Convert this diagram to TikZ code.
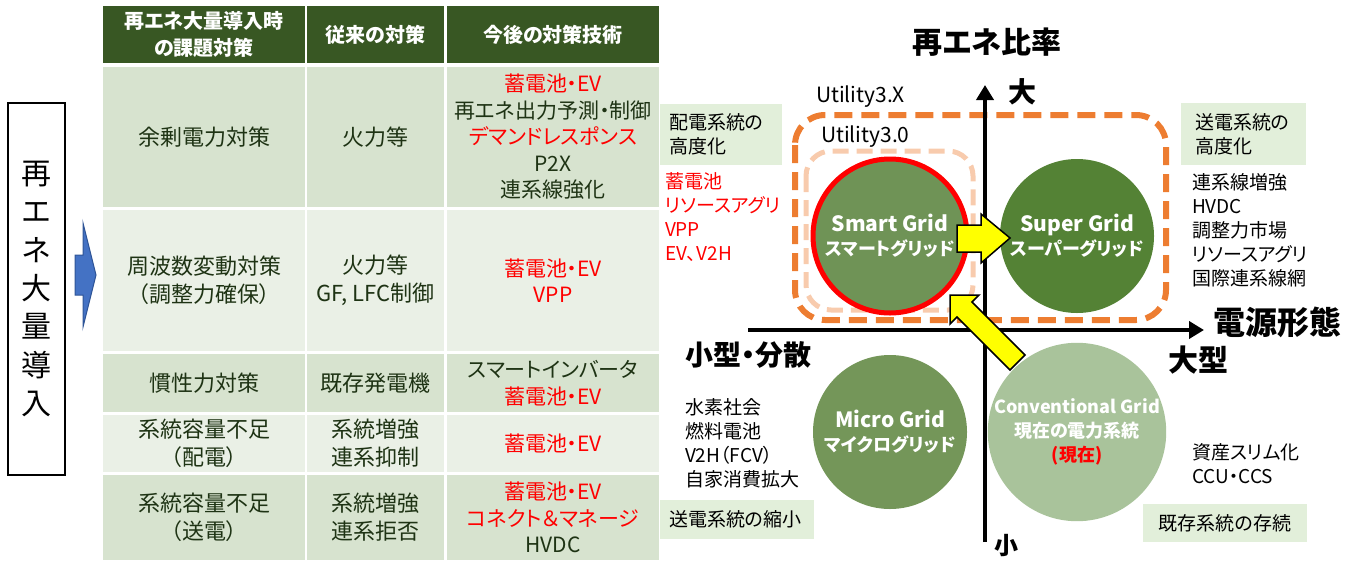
\documentclass[tikz,border=0pt]{standalone}
\usepackage{fontspec}
\setmainfont{Noto Sans CJK JP}[RawFeature=+palt]
\usetikzlibrary{arrows.meta}
\definecolor{hdr}{HTML}{385723}
\definecolor{rowA}{HTML}{D7E3CF}
\definecolor{rowB}{HTML}{EAF0E6}
\definecolor{ttext}{HTML}{1E3314}
\definecolor{rd}{HTML}{FF0000}
\definecolor{lbl}{HTML}{E2EFDA}
\definecolor{org}{HTML}{ED7D31}
\definecolor{peach}{HTML}{F8CBAD}
\definecolor{smartg}{HTML}{6F9356}
\definecolor{superg}{HTML}{548235}
\definecolor{microg}{HTML}{749659}
\definecolor{convg}{HTML}{A9C39B}
\definecolor{bluearr}{HTML}{4472C4}
\definecolor{bluedark}{HTML}{2F5597}
\definecolor{yel}{HTML}{FFFF00}
\begin{document}
\begin{tikzpicture}[x=1pt,y=-1pt,
 every node/.style={inner sep=0pt, outer sep=0pt},
 hcell/.style={fill=hdr, text=white, font=\bfseries\fontsize{20}{27}\selectfont, align=center},
 cellA/.style={fill=rowA, text=ttext, align=center},
 cellB/.style={fill=rowB, text=ttext, align=center},
 fa/.style={font=\fontsize{22}{28}\selectfont},
 fc/.style={font=\fontsize{21}{26.5}\selectfont},
 w1/.style={minimum width=202pt},
 w2/.style={minimum width=137pt},
 w3/.style={minimum width=212pt},
 lblbox/.style={fill=lbl, align=left, font=\fontsize{19}{24}\selectfont},
 listtext/.style={align=left, anchor=west, font=\fontsize{19}{24}\selectfont},
 axislabel/.style={font=\bfseries\fontsize{30}{36}\selectfont},
 gridc/.style={circle, minimum size=154pt, text=white, align=center, font=\bfseries\fontsize{21}{24}\selectfont},
 blockarrow/.style={fill=yel, draw=black, line width=1.5pt, line join=miter},
 axisline/.style={line width=4pt, -{Triangle[length=15pt,width=17pt]}},
]
\useasboundingbox (0,0) rectangle (1356,560);

% ---------- left vertical box ----------
\node[draw, line width=1.2pt, minimum width=57pt, minimum height=372pt] (vbox) at (36.5,289) {};
\node[align=center, font=\fontsize{30}{38.3}\selectfont] (vtext) at (vbox.center) {再\\エ\\ネ\\大\\量\\導\\入};
\draw[fill=bluearr, draw=bluedark, line width=1pt] (75,255) -- (83,255) -- (83,223) -- (96,275) -- (83,327) -- (83,295) -- (75,295) -- cycle;

% ---------- table ----------
\node[hcell, w1, minimum height=57pt] (h1) at (204,34.5) {再エネ大量導入時\\の課題対策};
\node[hcell, w2, minimum height=57pt] (h2) at (375.5,34.5) {従来の対策};
\node[hcell, w3, minimum height=57pt] (h3) at (553,34.5) {今後の対策技術};

\node[cellA, fa, w1, minimum height=140pt] (r1c1) at (204,137) {余剰電力対策};
\node[cellA, fa, w2, minimum height=140pt] (r1c2) at (375.5,137) {火力等};
\node[cellA, fc, w3, minimum height=140pt] (r1c3) at (553,137) {{\color{rd}蓄電池・EV}\\再エネ出力予測・制御\\{\color{rd}デマンドレスポンス}\\P2X\\連系線強化};

\node[cellB, fa, w1, minimum height=141pt] (r2c1) at (204,280.5) {周波数変動対策\\（調整力確保）};
\node[cellB, fa, w2, minimum height=141pt] (r2c2) at (375.5,280.5) {火力等\\GF, LFC制御};
\node[cellB, fc, w3, minimum height=141pt, text=rd] (r2c3) at (553,280.5) {蓄電池・EV\\VPP};

\node[cellA, fa, w1, minimum height=58pt] (r3c1) at (204,383) {慣性力対策};
\node[cellA, fa, w2, minimum height=58pt] (r3c2) at (375.5,383) {既存発電機};
\node[cellA, fc, w3, minimum height=58pt] (r3c3) at (553,383) {スマートインバータ\\{\color{rd}蓄電池・EV}};

\node[cellB, fa, w1, minimum height=57pt] (r4c1) at (204,443.5) {系統容量不足\\（配電）};
\node[cellB, fa, w2, minimum height=57pt] (r4c2) at (375.5,443.5) {系統増強\\連系抑制};
\node[cellB, fc, w3, minimum height=57pt, text=rd] (r4c3) at (553,443.5) {蓄電池・EV};

\node[cellA, fa, w1, minimum height=85pt] (r5c1) at (204,517.5) {系統容量不足\\（送電）};
\node[cellA, fa, w2, minimum height=85pt] (r5c2) at (375.5,517.5) {系統増強\\連系拒否};
\node[cellA, fc, w3, minimum height=85pt] (r5c3) at (553,517.5) {{\color{rd}蓄電池・EV}\\{\color{rd}コネクト＆マネージ}\\HVDC};

% ---------- right diagram ----------
\draw[org, line width=6pt, dash pattern=on 18pt off 9pt, rounded corners=30pt] (795,115) rectangle (1166,320);
\draw[peach, line width=5pt, dash pattern=on 16pt off 8pt, rounded corners=25pt] (806,151) rectangle (973,310);

\coordinate (vb) at (985,542);
\coordinate (vt) at (985,85);
\coordinate (hl) at (748,330);
\coordinate (hr) at (1204,330);
\draw[axisline] (vb) -- (vt);
\draw[axisline] (hl) -- (hr);

\node[gridc, fill=smartg, draw=rd, line width=5pt] (smart) at (890,236) {Smart Grid\\{\fontsize{18}{24}\selectfont スマートグリッド}};
\node[gridc, fill=superg] (super) at (1077,236) {Super Grid\\{\fontsize{18}{24}\selectfont スーパーグリッド}};
\node[gridc, fill=microg] (micro) at (890,432) {Micro Grid\\{\fontsize{18}{22}\selectfont マイクログリッド}};
\node[gridc, fill=convg, font=\bfseries\fontsize{18}{24}\selectfont] (conv) at (1077,432) {Conventional Grid\\現在の電力系統\\{\color{rd}(現在)}};

\draw[blockarrow] (957,225) -- (981,225) -- (981,214) -- (1010,238) -- (981,263) -- (981,252) -- (957,252) -- cycle;
\draw[blockarrow] (950,295) -- (979,295) -- (972,302) -- (1025,355) -- (1010,370) -- (957,317) -- (950,324) -- cycle;

\node[axislabel] (title) at (987,42) {再エネ比率};
\node[font=\bfseries\fontsize{28}{32}\selectfont] (big) at (1022,92) {大};
\node[font=\bfseries\fontsize{32}{36}\selectfont] (dgk) at (1277,322) {電源形態};
\node[axislabel] (ogata) at (1198,360) {大型};
\node[font=\bfseries\fontsize{28}{32}\selectfont] (kogata) at (748,355) {小型・分散};
\node[font=\bfseries\fontsize{24}{28}\selectfont] (small) at (1006,546) {小};

\node[anchor=west, font=\fontsize{21}{24}\selectfont] (u3x) at (816,97) {Utility3.X};
\node[anchor=west, font=\fontsize{21}{24}\selectfont] (u30) at (821,137) {Utility3.0};

\node[lblbox, minimum width=122pt, minimum height=61pt, text width=104pt] (lblL) at (721,134.5) {配電系統の\\高度化};
\node[lblbox, minimum width=125pt, minimum height=62pt, text width=97pt] (lblR) at (1243.5,134) {送電系統の\\高度化};
\node[lblbox, minimum width=154pt, minimum height=39pt, text width=136pt] (lblLL) at (737,519.5) {送電系統の縮小};
\node[lblbox, align=center, minimum width=164pt, minimum height=38pt] (lblRR) at (1225,523) {既存系統の存続};

\node[listtext, text=rd] (redlist) at (665,217.5) {蓄電池\\リソースアグリ\\VPP\\EV、V2H};
\node[listtext] (blklist) at (1192,230.5) {連系線増強\\HVDC\\調整力市場\\リソースアグリ\\国際連系線網};
\node[listtext] (h2list) at (685,443.5) {水素社会\\燃料電池\\V2H（FCV）\\自家消費拡大};
\node[listtext] (slim) at (1192,464) {資産スリム化\\CCU・CCS};
\end{tikzpicture}
\end{document}
